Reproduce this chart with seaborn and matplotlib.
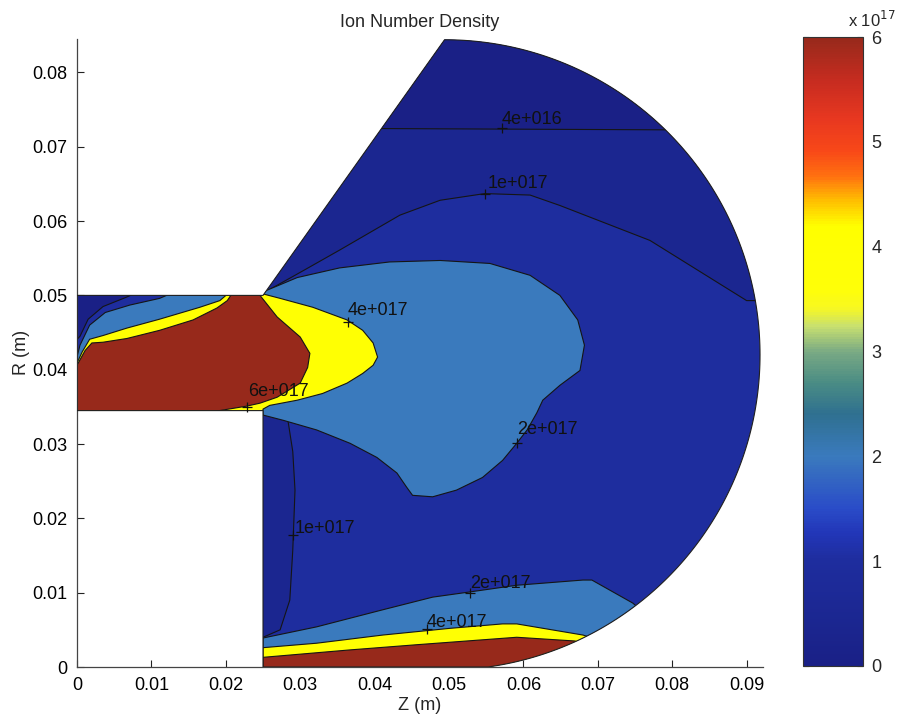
import numpy as np
import matplotlib
matplotlib.use("Agg")
import matplotlib.pyplot as plt
import seaborn as sns
from matplotlib.path import Path
from matplotlib.patches import PathPatch
from matplotlib.colors import LinearSegmentedColormap, Normalize
import matplotlib.cm as cm

sns.set_theme(style="white")
plt.rcParams['font.family'] = ['Liberation Sans', 'DejaVu Sans']

# ---------------- data ----------------
title = "Ion Number Density"
x_label = "Z (m)"
y_label = "R (m)"
x_ticks = [0, 0.01, 0.02, 0.03, 0.04, 0.05, 0.06, 0.07, 0.08, 0.09]
x_tick_labels = ["0", "0.01", "0.02", "0.03", "0.04", "0.05", "0.06", "0.07", "0.08", "0.09"]
y_ticks = [0, 0.01, 0.02, 0.03, 0.04, 0.05, 0.06, 0.07, 0.08]
y_tick_labels = ["0", "0.01", "0.02", "0.03", "0.04", "0.05", "0.06", "0.07", "0.08"]
cbar_ticks = [0, 1e17, 2e17, 3e17, 4e17, 5e17, 6e17]
cbar_tick_labels = ["0", "1", "2", "3", "4", "5", "6"]

# geometry (m)
channel_z = [0.0, 0.025]
channel_r = [0.0345, 0.050]
arc_center = (0.0494, 0.0420)
arc_radius = 0.0424

# contour regions (z, r in m) and their lower level value (m^-3)
dark_top_z = [0.0250, 0.0300, 0.0353, 0.0434, 0.0488, 0.0548, 0.0609, 0.0649, 0.0770, 0.0900, 0.0960, 0.0960, 0.0250]
dark_top_r = [0.0503, 0.0531, 0.0561, 0.0608, 0.0628, 0.0637, 0.0635, 0.0621, 0.0574, 0.0493, 0.0493, 0.0900, 0.0900]
darkest_top_z = [0.0300, 0.0960, 0.0960, 0.0300]
darkest_top_r = [0.0725, 0.0722, 0.0900, 0.0900]
dark_left_z = [0.0240, 0.0250, 0.0283, 0.0290, 0.0293, 0.0290, 0.0286, 0.0273, 0.0250, 0.0240]
dark_left_r = [0.0345, 0.0345, 0.0335, 0.0290, 0.0238, 0.0157, 0.0090, 0.0050, 0.0040, 0.0040]
dark_corner_z = [-0.001, -0.001, 0.0004, 0.0015, 0.0035, 0.0065, 0.0095]
dark_corner_r = [0.0510, 0.0430, 0.0445, 0.0468, 0.0485, 0.0497, 0.0510]
lightblue_upper_z = [0.0000, 0.0000, 0.0004, 0.0017, 0.0038, 0.0071, 0.0111, 0.0132, 0.0250, 0.0253, 0.0296,
                     0.0353, 0.0420, 0.0488, 0.0555, 0.0609, 0.0649, 0.0673, 0.0682, 0.0676, 0.0649, 0.0626,
                     0.0618, 0.0605, 0.0591, 0.0572, 0.0545, 0.0510, 0.0478, 0.0451, 0.0443, 0.0430, 0.0403,
                     0.0367, 0.0322, 0.0277, 0.0250, 0.0250]
lightblue_upper_r = [0.0340, 0.0417, 0.0433, 0.0460, 0.0477, 0.0487, 0.0496, 0.0505, 0.0505, 0.0506, 0.0524,
                     0.0537, 0.0545, 0.0547, 0.0543, 0.0527, 0.0500, 0.0467, 0.0433, 0.0399, 0.0379, 0.0359,
                     0.0342, 0.0319, 0.0301, 0.0278, 0.0255, 0.0238, 0.0229, 0.0231, 0.0242, 0.0261, 0.0282,
                     0.0301, 0.0319, 0.0332, 0.0339, 0.0340]
yellow_upper_z = [0.0000, 0.0000, 0.0007, 0.0017, 0.0035, 0.0067, 0.0111, 0.0165, 0.0192, 0.0206, 0.0242,
                  0.0250, 0.0273, 0.0317, 0.0363, 0.0384, 0.0398, 0.0404, 0.0398, 0.0384, 0.0363, 0.0330,
                  0.0296, 0.0259, 0.0250, 0.0250]
yellow_upper_r = [0.0340, 0.0409, 0.0424, 0.0441, 0.0446, 0.0456, 0.0468, 0.0484, 0.0493, 0.0505, 0.0505,
                  0.0502, 0.0496, 0.0484, 0.0467, 0.0453, 0.0436, 0.0417, 0.0406, 0.0395, 0.0382, 0.0368,
                  0.0359, 0.0352, 0.0347, 0.0340]
red_upper_z = [0.0000, 0.0000, 0.0011, 0.0020, 0.0035, 0.0067, 0.0111, 0.0156, 0.0188, 0.0202, 0.0210,
               0.0242, 0.0269, 0.0300, 0.0313, 0.0310, 0.0300, 0.0269, 0.0246, 0.0228, 0.0161]
red_upper_r = [0.0340, 0.0406, 0.0426, 0.0436, 0.0437, 0.0442, 0.0453, 0.0467, 0.0483, 0.0493, 0.0505,
               0.0505, 0.0471, 0.0444, 0.0422, 0.0403, 0.0382, 0.0363, 0.0355, 0.0351, 0.0340]
lightblue_lower_z = [0.0250, 0.0250, 0.0322, 0.0411, 0.0478, 0.0528, 0.0591, 0.0680, 0.0692, 0.0747, 0.0800, 0.0800]
lightblue_lower_r = [-0.001, 0.0039, 0.0054, 0.0077, 0.0094, 0.0101, 0.0110, 0.0117, 0.0117, 0.0086, 0.0040, -0.001]
yellow_lower_z = [0.0250, 0.0250, 0.0322, 0.0411, 0.0501, 0.0572, 0.0591, 0.0680, 0.0720, 0.0720]
yellow_lower_r = [-0.001, 0.0026, 0.0032, 0.0043, 0.0052, 0.0058, 0.0058, 0.0043, 0.0030, -0.001]
red_lower_z = [0.0250, 0.0250, 0.0367, 0.0457, 0.0591, 0.0669, 0.0720, 0.0720]
red_lower_r = [-0.001, 0.0013, 0.0023, 0.0030, 0.0040, 0.0035, 0.0020, -0.001]

base_level = 1e17
region_levels = {
    "dark_top": 0.4e17, "darkest_top": 0.0, "dark_left": 0.4e17, "dark_corner": 0.0,
    "lightblue_upper": 2e17, "lightblue_lower": 2e17,
    "yellow_upper": 4e17, "yellow_lower": 4e17,
    "red_upper": 6e17, "red_lower": 6e17,
}

# contour labels: text, left z, center r, marker z, marker r
label_texts = ["4e+016", "1e+017", "4e+017", "6e+017", "2e+017", "1e+017", "2e+017", "4e+017"]
label_z = [0.0571, 0.0552, 0.0364, 0.0230, 0.0592, 0.0293, 0.0528, 0.0470]
label_r = [0.0737, 0.0651, 0.0480, 0.0371, 0.0320, 0.0187, 0.0112, 0.0060]
marker_z = [0.0571, 0.0548, 0.0364, 0.0228, 0.0591, 0.0290, 0.0528, 0.0470]
marker_r = [0.0725, 0.0636, 0.0464, 0.0350, 0.0301, 0.0178, 0.0100, 0.0051]

# colormap (sampled from the colorbar)
cmap_stops = [0.0, 0.067, 0.167, 0.21, 0.25, 0.333, 0.40, 0.45, 0.50, 0.54, 0.57, 0.60, 0.70, 0.74, 0.78, 0.82, 0.87, 0.93, 1.0]
cmap_colors = ["#1a2086", "#1b2690", "#1e2d9e", "#2236b8", "#2a4cc8", "#3a7abd", "#2f7090", "#4a8c84",
               "#7aaa84", "#c8e070", "#f8f820", "#ffff08", "#ffff00", "#ffc000", "#ff7010", "#f84818",
               "#e83820", "#c82c20", "#97291b"]

# ---------------- figure ----------------
W, H = 911, 717
fig = plt.figure(figsize=(W / 100, H / 100), dpi=100)
fig.patch.set_facecolor("white")
ax = fig.add_axes([77 / W, 50 / H, (763 - 77) / W, (667 - 39) / H])
cax = fig.add_axes([803 / W, 51 / H, 60 / W, (666 - 37) / H])

cmap = LinearSegmentedColormap.from_list("scan_jet", list(zip(cmap_stops, cmap_colors)))
norm = Normalize(vmin=0, vmax=6e17)

# domain path
theta_bot = np.arcsin((0 - arc_center[1]) / arc_radius)
theta = np.linspace(theta_bot, np.pi / 2, 200)
arc_z = arc_center[0] + arc_radius * np.cos(theta)
arc_r = arc_center[1] + arc_radius * np.sin(theta)
dom_z = np.concatenate([[channel_z[0], channel_z[1], channel_z[1]], arc_z, [channel_z[1], channel_z[0]]])
dom_r = np.concatenate([[channel_r[0], channel_r[0], 0.0], arc_r, [channel_r[1], channel_r[1]]])
dom_verts = np.column_stack([dom_z, dom_r])
dom_path = Path(np.vstack([dom_verts, dom_verts[:1]]), closed=True)

domain = PathPatch(dom_path, facecolor=cmap(norm(base_level)), edgecolor="none", zorder=1)
ax.add_patch(domain)

regions = [
    ("dark_top", dark_top_z, dark_top_r),
    ("darkest_top", darkest_top_z, darkest_top_r),
    ("dark_left", dark_left_z, dark_left_r),
    ("dark_corner", dark_corner_z, dark_corner_r),
    ("lightblue_upper", lightblue_upper_z, lightblue_upper_r),
    ("lightblue_lower", lightblue_lower_z, lightblue_lower_r),
    ("yellow_upper", yellow_upper_z, yellow_upper_r),
    ("yellow_lower", yellow_lower_z, yellow_lower_r),
    ("red_upper", red_upper_z, red_upper_r),
    ("red_lower", red_lower_z, red_lower_r),
]
for i, (name, zz, rr) in enumerate(regions):
    polys = ax.fill(zz, rr, facecolor=cmap(norm(region_levels[name])), edgecolor="#151515",
                    linewidth=0.8, zorder=2 + i * 0.01)
    for p in polys:
        p.set_clip_path(domain)

outline = PathPatch(dom_path, facecolor="none", edgecolor="#202020", linewidth=0.8, zorder=3)
ax.add_patch(outline)

# contour labels
for t, lz, lr in zip(label_texts, label_z, label_r):
    ax.text(lz, lr, t, fontsize=13, color="#111111", ha="left", va="center", zorder=5)
sns.scatterplot(x=marker_z, y=marker_r, marker="+", color="#111111", s=45, linewidth=0.9,
                ax=ax, legend=False, zorder=5)

ax.set_xlim(0, 0.0922)
ax.set_ylim(0, 0.0845)
ax.set_xticks(x_ticks)
ax.set_xticklabels(x_tick_labels)
ax.set_yticks(y_ticks)
ax.set_yticklabels(y_tick_labels)
ax.tick_params(direction="in", length=5, width=0.8, bottom=True, left=True, labelsize=13,
               colors="#222222", labelcolor="black", pad=7)
sns.despine(ax=ax)
for s in ["left", "bottom"]:
    ax.spines[s].set_color("#444444")
    ax.spines[s].set_linewidth(0.9)
ax.set_facecolor("white")
ax.set_title(title, fontsize=13, pad=9)
fig.text(420 / W, 1 - 705 / H, x_label, ha="center", va="center", fontsize=13)
fig.text(22 / W, 1 - 352 / H, y_label, ha="center", va="center", rotation=90, fontsize=13)

# colorbar
sm = cm.ScalarMappable(norm=norm, cmap=cmap)
cb = fig.colorbar(sm, cax=cax)
cb.set_ticks(cbar_ticks)
cb.set_ticklabels(cbar_tick_labels)
cax.tick_params(axis="y", direction="in", left=True, right=True, length=4, width=0.8,
                labelsize=13, pad=6)
cb.outline.set_edgecolor("#333333")
cb.outline.set_linewidth(0.8)
fig.text(848 / W, 1 - 20 / H, r"x 10$^{17}$", ha="left", va="center", fontsize=12)

fig.savefig("out.png", dpi=100)
